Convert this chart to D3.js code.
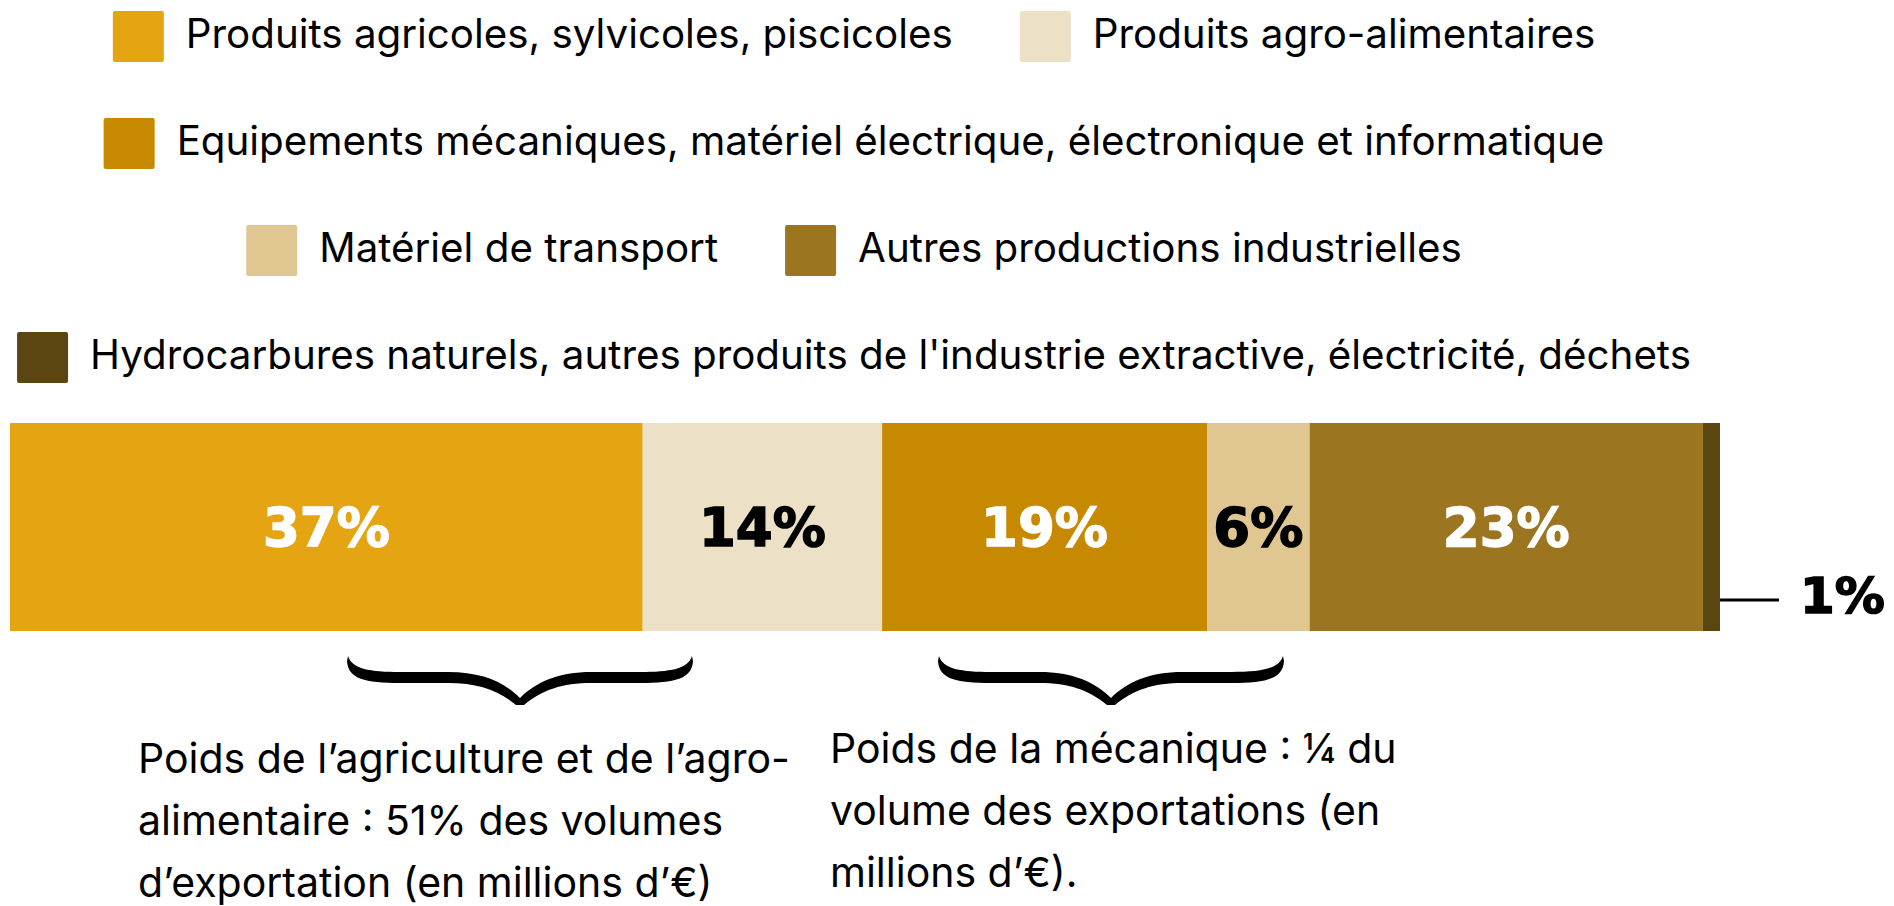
<!DOCTYPE html>
<html>
<head>
<meta charset="utf-8">
<script src="https://cdn.jsdelivr.net/npm/d3@7"></script>
<style>
  html, body { margin: 0; padding: 0; background: #fff; }
  svg { display: block; }
</style>
</head>
<body>
<div id="chart"></div>
<script>
// parts des exportations (en %)
const categories = [
    "Produits agricoles, sylvicoles, piscicoles",
    "Produits agro-alimentaires",
    "Equipements mécaniques, matériel électrique, électronique et informatique",
    "Matériel de transport",
    "Autres productions industrielles",
    "Hydrocarbures naturels, autres produits de l'industrie extractive, électricité, déchets"
];
const values = [37, 14, 19, 6, 23, 1];
const colors = ["#e5a412", "#ece0c7", "#c68900", "#e0c792", "#9c7520", "#5b4510"];
const labelColors = ["#fff", "#000", "#fff", "#000", "#fff", "#000"];

const notes = [
    ["Poids de l’agriculture et de l’agro-", "alimentaire : 51% des volumes", "d’exportation (en millions d’€)"],
    ["Poids de la mécanique : ¼ du", "volume des exportations (en", "millions d’€)."]
];

const width = 1894, height = 906;
const barTop = 423, barH = 208;
const textFont = "Inter, 'Liberation Sans', sans-serif";
const pctFont = "'DejaVu Sans', sans-serif";

const svg = d3.select("#chart").append("svg")
    .attr("width", width)
    .attr("height", height);

svg.append("rect").attr("width", width).attr("height", height).attr("fill", "#fff");

const x = d3.scaleLinear().domain([0, d3.sum(values)]).range([10, 1720]);

const data = values.map((v, i) => ({
    name: categories[i],
    value: v,
    start: d3.sum(values.slice(0, i)),
    color: colors[i],
    labelColor: labelColors[i]
}));

// --- legende (retour a la ligne comme l'original) ---
const legend = svg.append("g").attr("class", "legend");
const sw = 51, swGap = 22, itemGap = 67, maxRow = 1710, legendCx = 854;

const items = legend.selectAll("g.item")
    .data(data)
  .enter().append("g")
    .attr("class", "item");

items.append("rect")
    .attr("width", sw)
    .attr("height", sw)
    .attr("rx", 2)
    .attr("fill", d => d.color);

items.append("text")
    .attr("x", sw + swGap)
    .attr("y", sw / 2 + 11)
    .style("font-family", textFont)
    .style("font-size", "40.3px")
    .attr("fill", "#000")
    .text(d => d.name);

const rows = [];
let row = [], rowW = 0;
items.each(function(d) {
    const w = sw + swGap + d3.select(this).select("text").node().getComputedTextLength();
    const add = row.length ? itemGap + w : w;
    if (row.length && rowW + add > maxRow) {
        rows.push({ items: row, w: rowW });
        row = []; rowW = 0;
    }
    row.push({ node: this, w: w });
    rowW += row.length > 1 ? itemGap + w : w;
});
if (row.length) rows.push({ items: row, w: rowW });

rows.forEach((r, ri) => {
    let cx = legendCx - r.w / 2;
    const top = 11 + ri * 107;
    r.items.forEach(it => {
        d3.select(it.node).attr("transform", "translate(" + cx + "," + top + ")");
        cx += it.w + itemGap;
    });
});

// --- barre empilee ---
const bar = svg.append("g").attr("class", "bar");

bar.selectAll("rect")
    .data(data)
  .enter().append("rect")
    .attr("x", d => x(d.start))
    .attr("y", barTop)
    .attr("width", d => x(d.start + d.value) - x(d.start))
    .attr("height", barH)
    .attr("fill", d => d.color);

const inside = data.filter(d => d.value >= 3);
const outside = data.filter(d => d.value < 3);

bar.selectAll("text.pct")
    .data(inside)
  .enter().append("text")
    .attr("class", "pct")
    .attr("x", d => x(d.start + d.value / 2))
    .attr("y", barTop + barH / 2 + 19)
    .attr("text-anchor", "middle")
    .style("font-family", pctFont)
    .style("font-weight", "bold")
    .style("font-size", "53px")
    .attr("fill", d => d.labelColor)
    .attr("stroke", d => d.labelColor)
    .attr("stroke-width", 1.5)
    .text(d => d.value + "%");

const outG = bar.selectAll("g.out")
    .data(outside)
  .enter().append("g")
    .attr("class", "out");

outG.append("line")
    .attr("x1", d => x(d.start + d.value))
    .attr("x2", d => x(d.start + d.value) + 59)
    .attr("y1", 600)
    .attr("y2", 600)
    .attr("stroke", "#000")
    .attr("stroke-width", 3);

outG.append("text")
    .attr("x", d => x(d.start + d.value) + 80)
    .attr("y", 613)
    .style("font-family", pctFont)
    .style("font-weight", "bold")
    .style("font-size", "50px")
    .attr("fill", "#000")
    .attr("stroke", "#000")
    .attr("stroke-width", 1.5)
    .text(d => d.value + "%");

// --- accolades + commentaires ---
const bracePath = "M -172,0 C -168,13 -150,16 -120,16 L -72,16 C -38,16 -16,26 0,42 " +
    "C 16,26 38,16 72,16 L 120,16 C 150,16 168,13 172,0 " +
    "L 173,5 C 172,23 155,27 120,27 L 72,27 C 42,27 22,34 4,49 L -4,49 " +
    "C -22,34 -42,27 -72,27 L -120,27 C -155,27 -172,23 -173,5 Z";

const braces = [
    { cx: 520, top: 656, textX: 138, textY: 773 },
    { cx: 1111, top: 656, textX: 830, textY: 763 }
];

const ann = svg.append("g").attr("class", "annotations");

ann.selectAll("path")
    .data(braces)
  .enter().append("path")
    .attr("d", bracePath)
    .attr("transform", d => "translate(" + d.cx + "," + d.top + ")")
    .attr("fill", "#000");

ann.selectAll("text")
    .data(braces)
  .enter().append("text")
    .style("font-family", textFont)
    .style("font-size", "41px")
    .attr("fill", "#000")
    .each(function(d, i) {
        d3.select(this).selectAll("tspan")
            .data(notes[i])
          .enter().append("tspan")
            .attr("x", d.textX)
            .attr("y", (t, j) => d.textY + j * 62)
            .text(t => t);
    });
</script>
</body>
</html>
